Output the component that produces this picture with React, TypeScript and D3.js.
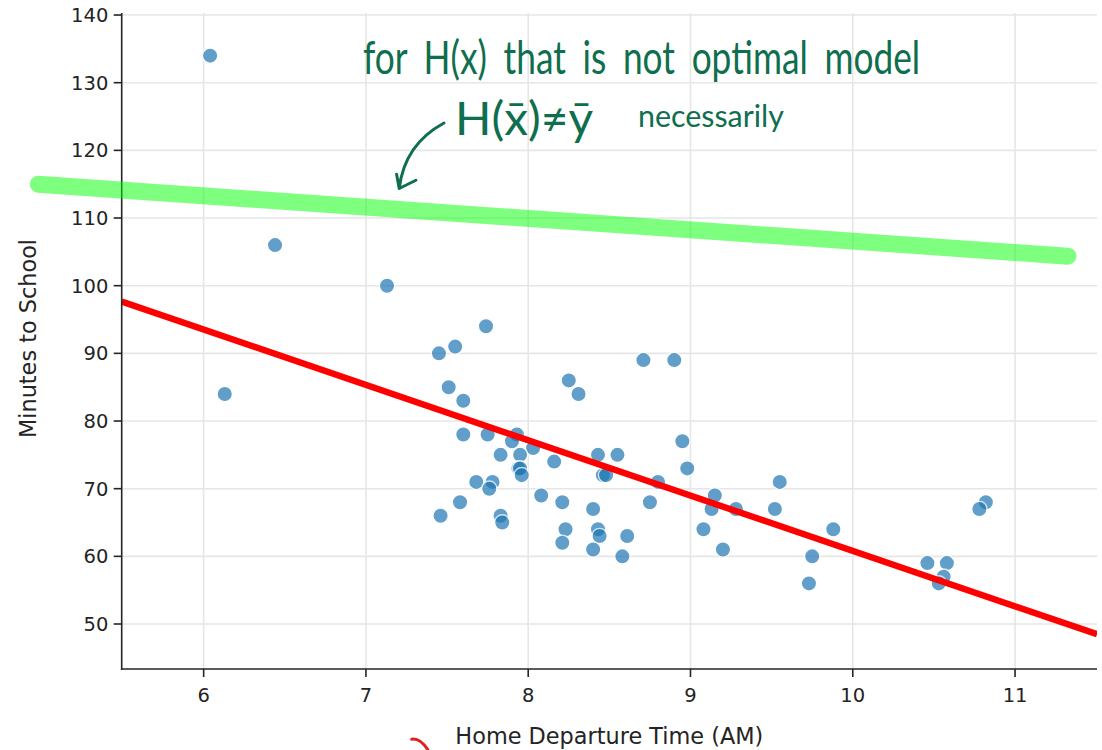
import React from 'react';
import * as d3 from 'd3';

// Departure time (hours, AM) and commute length (minutes) for each trip
const departureHours = [
  6.04, 6.13, 6.44, 7.13, 7.74, 7.45, 7.55, 7.51, 7.6, 8.25, 8.31, 8.71, 8.9,
  7.6, 7.75, 7.93, 7.9, 8.03, 7.83, 7.95, 7.94, 7.95, 7.96, 8.16, 8.43, 8.55,
  8.46, 8.48, 8.95, 8.98, 8.8, 7.68, 7.78, 7.76, 7.58, 7.46, 7.83, 7.84, 8.08,
  8.21, 8.4, 8.75, 8.23, 8.21, 8.43, 8.44, 8.4, 8.61, 8.58, 9.15, 9.13, 9.28,
  9.08, 9.2, 9.55, 9.52, 9.88, 9.75, 9.73, 10.46, 10.58, 10.56, 10.53, 10.82,
  10.78,
];
const minutesToSchool = [
  134, 84, 106, 100, 94, 90, 91, 85, 83, 86, 84, 89, 89,
  78, 78, 78, 77, 76, 75, 75, 73, 73, 72, 74, 75, 75,
  72, 72, 77, 73, 71, 71, 71, 70, 68, 66, 66, 65, 69,
  68, 67, 68, 64, 62, 64, 63, 61, 63, 60, 69, 67, 67,
  64, 61, 71, 67, 64, 60, 56, 59, 59, 57, 56, 68,
  67,
];

// Least-squares fit drawn in red
const fitIntercept = 142.6;
const fitSlope = -8.18;

// Hand-drawn alternative model H(x) (start and end, in data units)
const guessLineX = [4.981, 11.326];
const guessLineY = [114.99, 104.36];

const xTickValues = [6, 7, 8, 9, 10, 11];
const yTickValues = [50, 60, 70, 80, 90, 100, 110, 120, 130, 140];

const xDomain = [5.495, 11.505];
const yDomain = [43.35, 140.3];

const W = 1102;
const H = 750;
const margin = { top: 13, right: 5, bottom: 81, left: 121.7 };

const axisFont = "Verdana, 'DejaVu Sans', sans-serif";
const inkGreen = '#0e6e4e';
const handFont = "Lato, 'Open Sans', sans-serif";

export default function App() {
  const x = d3.scaleLinear().domain(xDomain).range([margin.left, W - margin.right]);
  const y = d3.scaleLinear().domain(yDomain).range([H - margin.bottom, margin.top]);

  const fitLine = d3
    .line<number>()
    .x((d) => x(d))
    .y((d) => y(fitIntercept + fitSlope * d));

  const guessPath = d3
    .line<number>()
    .x((d) => x(guessLineX[d]))
    .y((d) => y(guessLineY[d]));

  // Arrow pointing from the note down to the green line
  const arrowStart: [number, number] = [7.481, 124.05];
  const arrowCtrl: [number, number] = [7.237, 120.88];
  const arrowTip: [number, number] = [7.205, 114.36];
  const wingA: [number, number] = [7.189, 116.47];
  const wingB: [number, number] = [7.308, 115.58];
  const arrowPath =
    `M${x(arrowStart[0])},${y(arrowStart[1])} Q${x(arrowCtrl[0])},${y(arrowCtrl[1])} ${x(arrowTip[0])},${y(arrowTip[1])}` +
    ` M${x(wingA[0])},${y(wingA[1])} L${x(arrowTip[0])},${y(arrowTip[1])} L${x(wingB[0])},${y(wingB[1])}`;

  // Small red pen stroke near the bottom edge
  const redStroke = `M${x(7.282)},${y(32.97)} Q${x(7.333)},${y(33.16)} ${x(7.382)},${y(31.4)}`;

  const plotLeft = margin.left;
  const plotRight = W - margin.right;
  const plotTop = margin.top;
  const plotBottom = H - margin.bottom;

  return (
    <svg
      width={W}
      height={H}
      style={{ position: 'absolute', left: 0, top: 0, background: '#fff' }}
    >
      <defs>
        <clipPath id="plot-area">
          <rect x={plotLeft} y={plotTop} width={plotRight - plotLeft} height={plotBottom - plotTop} />
        </clipPath>
      </defs>
      <rect width={W} height={H} fill="#fff" />

      {/* grid */}
      <g stroke="#e6e6e6" strokeWidth={1.6}>
        {xTickValues.map((t) => (
          <line key={`gx${t}`} x1={x(t)} x2={x(t)} y1={plotTop} y2={plotBottom} />
        ))}
        {yTickValues.map((t) => (
          <line key={`gy${t}`} x1={plotLeft} x2={plotRight} y1={y(t)} y2={y(t)} />
        ))}
      </g>

      {/* data */}
      <g clipPath="url(#plot-area)">
        {departureHours.map((h, i) => (
          <circle
            key={i}
            cx={x(h)}
            cy={y(minutesToSchool[i])}
            r={7.7}
            fill="#1f77b4"
            stroke="#fff"
            strokeWidth={1.4}
            opacity={0.7}
          />
        ))}
        <path d={fitLine(xDomain) || ''} stroke="#ff0000" strokeWidth={6.4} fill="none" />
      </g>

      {/* axes */}
      <g stroke="#242424" strokeWidth={1.6}>
        <line x1={plotLeft} x2={plotLeft} y1={plotTop} y2={plotBottom + 0.8} />
        <line x1={plotLeft - 0.8} x2={plotRight} y1={plotBottom} y2={plotBottom} />
        {xTickValues.map((t) => (
          <line key={`tx${t}`} x1={x(t)} x2={x(t)} y1={plotBottom} y2={plotBottom + 8} />
        ))}
        {yTickValues.map((t) => (
          <line key={`ty${t}`} x1={plotLeft - 8} x2={plotLeft} y1={y(t)} y2={y(t)} />
        ))}
      </g>
      <g fontFamily={axisFont} fontSize={19.5} fill="#242424">
        {xTickValues.map((t) => (
          <text key={`lx${t}`} x={x(t)} y={plotBottom + 32.7} textAnchor="middle">
            {t}
          </text>
        ))}
        {yTickValues.map((t) => (
          <text key={`ly${t}`} x={plotLeft - 13.4} y={y(t) + 7} textAnchor="end">
            {t}
          </text>
        ))}
      </g>
      <text
        x={(plotLeft + plotRight) / 2}
        y={744}
        textAnchor="middle"
        fontFamily={axisFont}
        fontSize={22.4}
        fill="#242424"
      >
        Home Departure Time (AM)
      </text>
      <text
        transform={`translate(36, ${(plotTop + plotBottom) / 2 - 2.5}) rotate(-90)`}
        textAnchor="middle"
        fontFamily={axisFont}
        fontSize={22.4}
        fill="#242424"
      >
        Minutes to School
      </text>

      {/* pen annotations */}
      <path
        d={guessPath([0, 1]) || ''}
        stroke="#00ff00"
        strokeOpacity={0.5}
        strokeWidth={17}
        strokeLinecap="round"
        fill="none"
      />
      <path
        d={arrowPath}
        stroke={inkGreen}
        strokeWidth={3}
        fill="none"
        strokeLinecap="round"
        strokeLinejoin="round"
      />
      <g fill={inkGreen} fontFamily={handFont} fontWeight={400}>
        <text
          x={x(6.982)}
          y={y(131.24)}
          fontSize={46}
          textLength={x(10.415) - x(6.982)}
          lengthAdjust="spacingAndGlyphs"
          wordSpacing={10}
        >
          for H(x) that is not optimal model
        </text>
        <text
          x={x(7.549)}
          y={y(122.23)}
          fontSize={46}
          textLength={x(8.4) - x(7.549)}
          lengthAdjust="spacingAndGlyphs"
        >
          H(x̄)≠ȳ
        </text>
        <text
          x={x(8.676)}
          y={y(123.41)}
          fontSize={30}
          textLength={x(9.576) - x(8.676)}
          lengthAdjust="spacingAndGlyphs"
        >
          necessarily
        </text>
      </g>
      <path d={redStroke} stroke="#e0201c" strokeWidth={3} fill="none" strokeLinecap="round" />
    </svg>
  );
}
